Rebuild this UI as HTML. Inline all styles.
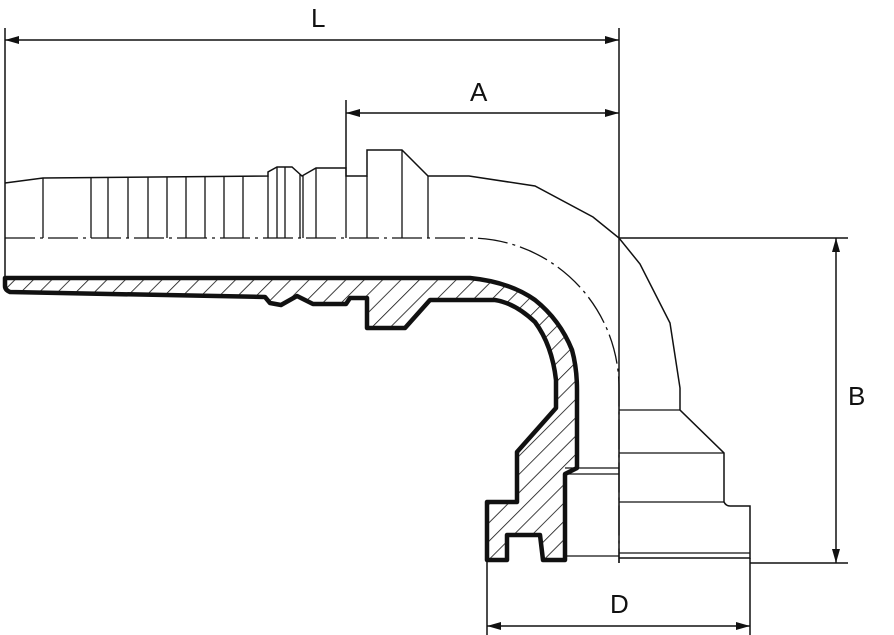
<!DOCTYPE html>
<html><head><style>html,body{margin:0;padding:0;background:#fff;width:894px;height:635px;overflow:hidden}text{font-family:"Liberation Sans",sans-serif;font-size:26px;fill:#111}</style></head>
<body>
<svg width="894" height="635" viewBox="0 0 894 635" xmlns="http://www.w3.org/2000/svg">
<defs>
<pattern id="h" patternUnits="userSpaceOnUse" width="13" height="13" patternTransform="rotate(45)">
<line x1="0" y1="0" x2="0" y2="13" stroke="#111" stroke-width="1.6"/>
</pattern>
<marker id="ar" markerWidth="14" markerHeight="8" refX="14" refY="4" orient="auto-start-reverse" markerUnits="userSpaceOnUse">
<path d="M0,0 L14,4 L0,8 z" fill="#111"/>
</marker>
</defs>
<g stroke="#111" fill="none" stroke-width="1.5">
<!-- extension lines -->
<line x1="5" y1="28" x2="5" y2="278"/>
<line x1="619" y1="28" x2="619" y2="563"/>
<line x1="346" y1="100" x2="346" y2="168"/>
<line x1="619" y1="238" x2="848" y2="238"/>
<line x1="750" y1="563" x2="848" y2="563"/>
<line x1="487" y1="560" x2="487" y2="635"/>
<line x1="750" y1="558" x2="750" y2="635"/>
<!-- dimension lines -->
<line x1="5" y1="40" x2="619" y2="40" marker-start="url(#ar)" marker-end="url(#ar)"/>
<line x1="346" y1="113" x2="619" y2="113" marker-start="url(#ar)" marker-end="url(#ar)"/>
<line x1="836" y1="238" x2="836" y2="563" marker-start="url(#ar)" marker-end="url(#ar)"/>
<line x1="487" y1="626" x2="750" y2="626" marker-start="url(#ar)" marker-end="url(#ar)"/>
<!-- centerline -->
<path d="M5,238 L469,238 A150,150 0 0 1 619,388 L619,563" stroke-dasharray="30,5,3,5" stroke-width="1.3"/>
<!-- top outline -->
<path d="M5,183 L43,178 L268,176 L268,172 L277,167 L292,167 L302,176 L316,168 L346,168 L346,176 L367,176 L367,150 L402,150 L428,176 L469,176 L535,186 L593,217 L619,238 L640,264 L670,323 L680,388 L680,410 L724,453 L724,502 Q726,506 730,506 L750,506 L750,558 L619,558"/>
<g stroke-width="1.3">
<line x1="43" y1="178" x2="43" y2="238"/><line x1="91" y1="177" x2="91" y2="238"/>
<line x1="108" y1="177" x2="108" y2="238"/><line x1="128" y1="177" x2="128" y2="238"/>
<line x1="148" y1="177" x2="148" y2="238"/><line x1="167" y1="177" x2="167" y2="238"/>
<line x1="186" y1="177" x2="186" y2="238"/><line x1="205" y1="177" x2="205" y2="238"/>
<line x1="224" y1="176" x2="224" y2="238"/><line x1="243" y1="176" x2="243" y2="238"/>
<line x1="268" y1="176" x2="268" y2="238"/><line x1="277" y1="167" x2="277" y2="238"/>
<line x1="285" y1="167" x2="285" y2="238"/><line x1="300" y1="174" x2="300" y2="238"/>
<line x1="303" y1="176" x2="303" y2="238"/><line x1="316" y1="168" x2="316" y2="238"/>
<line x1="346" y1="168" x2="346" y2="238"/><line x1="367" y1="176" x2="367" y2="238"/>
<line x1="402" y1="150" x2="402" y2="238"/><line x1="428" y1="176" x2="428" y2="238"/>
<line x1="619" y1="410" x2="680" y2="410"/><line x1="619" y1="453" x2="724" y2="453"/>
<line x1="619" y1="502" x2="724" y2="502"/><line x1="619" y1="553" x2="750" y2="553"/>
<line x1="565" y1="468" x2="619" y2="468"/><line x1="565" y1="474" x2="619" y2="474"/>
<line x1="565" y1="556" x2="619" y2="556"/>
<line x1="565" y1="474" x2="565" y2="560"/>
</g>
</g>
<!-- section -->
<path d="M5,278 L470,278 Q510,282 535,300 Q560,320 572,350 Q577,368 577,390 L577,468 L565,474 L565,560 L543,560 L540,535 L507,535 L507,560 L487,560 L487,502 L517,502 L517,452 L556,408 L556,380 Q552,345 535,322 Q515,303 495,300 L430,300 L405,328 L367,328 L367,298 L350,298 L346,304 L313,304 L297,296 L281,305 L270,303 L265,297 L10,292 Q5,290 5,286 Z" fill="url(#h)" stroke="#111" stroke-width="4.5" stroke-linejoin="round"/>
<text x="311" y="27">L</text>
<text x="470" y="101">A</text>
<text x="848" y="405">B</text>
<text x="610" y="613">D</text>
</svg>
</body></html>
